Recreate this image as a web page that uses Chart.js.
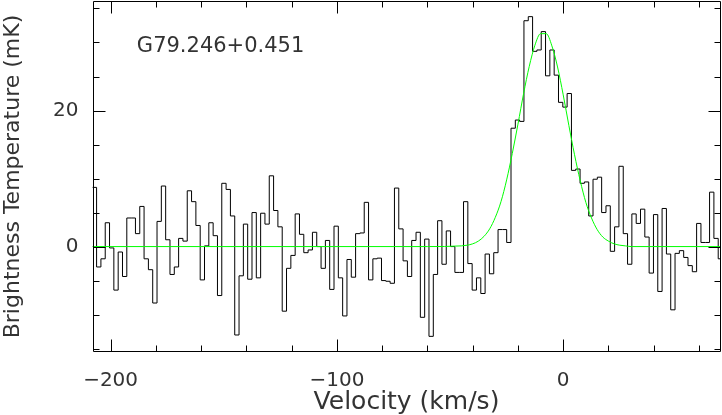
<!DOCTYPE html>
<html><head><meta charset="utf-8">
<script src="https://cdn.jsdelivr.net/npm/chart.js@4.4.1/dist/chart.umd.min.js"></script>
<style>html,body{margin:0;padding:0;background:#fff;overflow:hidden}#wrap{width:722px;height:415px}</style>
</head><body><div id="wrap"><canvas id="c" width="722" height="415"></canvas></div>
<script>
// ---- data ----
const channelStart = -208.1;   // km/s, left edge of first channel
const channelWidth = 1.9075;   // km/s per channel
const brightness = [
 8.7,-3.0,-1.8,3.5,-0.2,-6.4,-0.8,-4.4,4.2,4.2,
 1.9,5.9,-1.8,-3.4,-8.3,3.7,8.9,1.0,-4.1,-3.0,
 1.2,0.8,8.2,6.6,3.1,-4.9,0.1,3.5,1.6,-7.2,
 9.3,8.4,4.5,-13.0,-4.3,3.3,-4.8,5.0,-4.6,4.9,
 3.3,10.4,5.3,2.9,-9.5,-3.2,-1.3,4.8,1.8,-0.9,
 -0.5,2.1,0.0,-3.2,0.9,-6.3,3.0,-4.6,-10.2,-1.9,
 -4.5,1.9,2.0,6.5,-4.9,-1.8,-1.7,-5.0,-5.1,-5.4,
 8.6,2.6,-2.1,-4.4,0.9,2.1,-10.4,1.1,-13.2,-4.1,
 3.8,-2.6,2.3,0.0,-3.8,-3.8,6.6,-2.5,-6.4,-4.6,
 -6.9,-1.1,-4.0,-0.9,2.5,2.5,0.6,17.4,18.6,18.4,
 33.2,33.8,28.7,28.9,31.6,25.1,28.9,25.2,21.2,20.5,
 22.5,11.2,11.4,9.3,9.5,4.5,9.9,10.2,5.0,6.0,
 -0.7,2.9,11.8,1.9,-2.6,4.8,3.4,5.5,1.4,-3.9,
 4.7,-6.6,5.6,-1.1,-9.3,-1.0,-0.6,-1.6,-2.8,-3.7,
 3.4,0.6,0.6,8.0,1.2,-1.8
];
const fitVelocity   = [-212,-60,-45,-42.5,-40,-37.5,-35,-32.5,-30,-27.5,-25,-22.5,-20,-17.5,-15,-12.5,-10,-7.5,-5,-2.5,0,2.5,5,7.5,10,12.5,15,17.5,20,22.5,25,27.5,30,45,72];
const fitBrightness = [0,0,0.1,0.2,0.4,0.8,1.5,2.6,4.3,6.6,9.8,13.7,18.0,22.5,26.5,29.6,31.3,31.3,29.5,26.4,22.3,17.8,13.5,9.7,6.5,4.2,2.5,1.4,0.8,0.4,0.2,0.1,0,0,0];
const xTickValues = [-200,-100,0];
const yTickValues = [0,20];
const xMinorStep = 20, yMinorStep = 5, xMajorStep = 100, yMajorStep = 20;
const sourceName = 'G79.246+0.451';
const xTitle = 'Velocity (km/s)';
const yTitle = 'Brightness Temperature (mK)';

// ---- build library data ----
const stepPoints = brightness.map((v,i)=>({x: channelStart + i*channelWidth, y: v}));
stepPoints.push({x: channelStart + brightness.length*channelWidth, y: brightness[brightness.length-1]});
const fitPoints = fitVelocity.map((v,i)=>({x: v, y: fitBrightness[i]}));

const FONT = '"DejaVu Sans", sans-serif';
const TXT = '#333';

const frameTicks = {
  id:'frameTicks',
  afterDraw(chart){
    const {ctx, chartArea:a, scales:{x,y}} = chart;
    ctx.save();
    ctx.strokeStyle='#000'; ctx.lineWidth=1;
    const L=Math.round(a.left)+0.5, R=Math.round(a.right)-0.5, T=Math.round(a.top)+0.5, B=Math.round(a.bottom)-0.5;
    ctx.beginPath();
    ctx.rect(L,T,R-L,B-T);
    const xs = Math.ceil(x.min/xMinorStep)*xMinorStep;
    for(let v=xs; v<=x.max; v+=xMinorStep){
      const px=Math.round(x.getPixelForValue(v))+0.5;
      const len=(Math.abs(v%xMajorStep)<1e-6)?12:6;
      ctx.moveTo(px,B); ctx.lineTo(px,B-len);
      ctx.moveTo(px,T); ctx.lineTo(px,T+len);
    }
    const ys = Math.ceil(y.min/yMinorStep)*yMinorStep;
    for(let v=ys; v<=y.max; v+=yMinorStep){
      const py=Math.round(y.getPixelForValue(v))+0.5;
      const len=(Math.abs(v%yMajorStep)<1e-6)?12:6;
      ctx.moveTo(L,py); ctx.lineTo(L+len,py);
      ctx.moveTo(R,py); ctx.lineTo(R-len,py);
    }
    ctx.stroke();
    ctx.fillStyle=TXT; ctx.font='21px '+FONT; ctx.textAlign='left'; ctx.textBaseline='middle';
    ctx.fillText(sourceName, x.getPixelForValue(-188.4), y.getPixelForValue(29.4));
    ctx.restore();
  }
};

new Chart(document.getElementById('c'), {
  type:'line',
  data:{datasets:[
    {data:stepPoints, stepped:'before', borderColor:'#000', borderWidth:1, pointRadius:0, fill:false, clip:0, order:2},
    {data:fitPoints, borderColor:'#00ff00', borderWidth:1, pointRadius:0, fill:false, cubicInterpolationMode:'monotone', clip:0, order:1}
  ]},
  options:{
    responsive:false, animation:false, devicePixelRatio:1,
    layout:{padding:{top:1,right:1.5,left:0,bottom:0}},
    plugins:{legend:{display:false}, tooltip:{enabled:false}},
    scales:{
      x:{type:'linear', min:-208.0, max:69.5,
        grid:{display:false}, border:{display:false},
        afterBuildTicks:s=>{s.ticks = xTickValues.map(v=>({value:v}));},
        afterFit:s=>{s.height=63; s.paddingLeft=0; s.paddingRight=0;},
        ticks:{color:TXT, font:{family:FONT,size:20}, padding:9, maxRotation:0,
          callback:v=>String(v).replace('-','\u2212')},
        title:{display:true, text:xTitle, color:TXT, font:{family:FONT,size:25}, padding:{top:0,bottom:-2}}
      },
      y:{type:'linear', min:-15.5, max:36.1,
        grid:{display:false}, border:{display:false},
        afterBuildTicks:s=>{s.ticks = yTickValues.map(v=>({value:v}));},
        afterFit:s=>{s.width=92.5; s.paddingTop=0; s.paddingBottom=0;},
        ticks:{color:TXT, font:{family:FONT,size:20}, padding:6,
          callback:v=>String(v).replace('-','\u2212')},
        title:{display:true, text:yTitle, color:TXT, font:{family:FONT,size:22}, padding:{top:0,bottom:0}}
      }
    }
  },
  plugins:[frameTicks]
});
</script></body></html>
